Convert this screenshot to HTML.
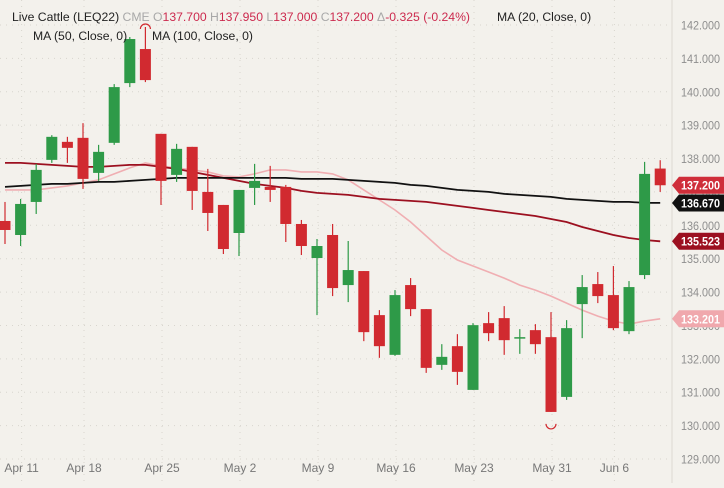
<!DOCTYPE html>
<html><head><meta charset="utf-8"><style>
html,body{margin:0;padding:0;background:#f3f1ec;}
body{width:724px;height:483px;overflow:hidden;font-family:"Liberation Sans",sans-serif;}
svg text{font-family:"Liberation Sans",sans-serif;}
</style></head><body>
<svg id="chart" width="724" height="483" xmlns="http://www.w3.org/2000/svg">
<rect x="0" y="0" width="724" height="483" fill="#f3f1ec"/>
<g id="grid"></g>
<line x1="672" y1="0" x2="672" y2="483" stroke="#dcd9d2" stroke-width="1"/>
<g id="ma"></g>
<g id="candles"></g>
<g id="yaxis"></g>
<g id="xaxis"></g>
<g id="tags"></g>
<g font-size="12.2">
<text x="12" y="21" textLength="458" lengthAdjust="spacingAndGlyphs"><tspan fill="#222">Live Cattle (LEQ22) </tspan><tspan fill="#a8a8a8">CME O</tspan><tspan fill="#cc2a4e">137.700 </tspan><tspan fill="#a8a8a8">H</tspan><tspan fill="#cc2a4e">137.950 </tspan><tspan fill="#a8a8a8">L</tspan><tspan fill="#cc2a4e">137.000 </tspan><tspan fill="#a8a8a8">C</tspan><tspan fill="#cc2a4e">137.200 </tspan><tspan fill="#a8a8a8">Δ</tspan><tspan fill="#cc2a4e">-0.325 (-0.24%)</tspan></text>
<text x="497" y="21" fill="#222">MA (20, Close, 0)</text>
<text x="33" y="40" fill="#222">MA (50, Close, 0)</text>
<text x="152" y="40" fill="#222">MA (100, Close, 0)</text>
</g>
</svg>
<script>
const opens  = [136.13,135.71,136.70,137.96,138.50,138.62,137.57,138.47,140.26,141.28,138.74,137.51,138.35,137.00,136.61,135.77,137.12,137.15,137.15,136.04,135.02,135.71,134.21,134.63,133.31,132.12,134.21,133.49,131.82,132.38,131.07,133.07,133.22,132.62,132.86,132.65,130.86,133.64,134.24,133.91,132.83,134.51,137.70];
const highs  = [136.70,136.79,137.84,138.70,138.65,139.06,138.41,140.23,141.64,141.94,138.74,138.44,138.35,137.69,136.61,137.06,137.84,137.78,137.21,136.16,135.59,136.04,135.53,134.63,133.46,134.06,134.42,133.49,132.44,132.74,133.07,133.40,133.58,132.89,133.04,133.40,133.16,134.51,134.60,134.78,134.33,137.90,137.95];
const lows   = [135.44,135.38,136.34,137.87,137.87,137.09,137.33,138.41,140.14,140.29,136.61,137.30,136.46,135.83,135.14,135.08,136.61,136.70,135.50,135.11,133.31,133.88,133.70,132.53,132.03,132.09,133.28,131.58,131.67,131.22,131.07,132.53,132.12,132.15,132.15,130.41,130.77,132.62,133.67,132.86,132.74,134.39,137.00];
const closes = [135.86,136.64,137.66,138.65,138.32,137.39,138.20,140.14,141.58,140.35,137.33,138.29,137.03,136.37,135.29,137.06,137.33,137.06,136.04,135.38,135.38,134.12,134.66,132.80,132.38,133.91,133.49,131.73,132.06,131.61,133.01,132.77,132.56,132.65,132.44,130.41,132.92,134.15,133.88,132.92,134.15,137.54,137.20];
const ma20  = [137.06,137.06,137.06,137.12,137.18,137.27,137.36,137.54,137.72,137.87,137.78,137.72,137.66,137.60,137.48,137.45,137.54,137.66,137.66,137.60,137.60,137.54,137.36,137.06,136.76,136.46,136.10,135.68,135.26,134.96,134.78,134.60,134.42,134.21,134.06,133.88,133.67,133.46,133.28,133.13,133.04,133.13,133.20];
const ma50  = [137.87,137.87,137.84,137.81,137.78,137.75,137.75,137.78,137.81,137.81,137.75,137.69,137.60,137.51,137.42,137.33,137.24,137.18,137.12,137.03,136.97,136.94,136.91,136.85,136.79,136.76,136.73,136.70,136.64,136.58,136.52,136.46,136.40,136.34,136.28,136.19,136.10,135.95,135.83,135.71,135.62,135.56,135.52];
const ma100 = [137.15,137.18,137.21,137.24,137.24,137.27,137.30,137.30,137.33,137.36,137.39,137.42,137.42,137.42,137.42,137.42,137.42,137.42,137.42,137.39,137.39,137.39,137.36,137.33,137.30,137.27,137.21,137.18,137.12,137.06,137.03,137.00,136.94,136.91,136.88,136.85,136.79,136.76,136.73,136.70,136.70,136.67,136.67];
const priceTicks = [142,141,140,139,138,137,136,135,134,133,132,131,130,129];
const dateLabels = ["Apr 11","Apr 18","Apr 25","May 2","May 9","May 16","May 23","May 31","Jun 6"];
const dateIndex  = [1,5,10,15,20,25,30,35,39];
const lastVals = [137.200,136.670,135.523,133.201];
const lastColors = ["#cf2e3a","#111111","#9c1020","#f0a8ad"];

const NS="http://www.w3.org/2000/svg";
const yOf=p=>25+(142-p)*33.385;
const xOf=i=>5+i*15.6;
function mk(tag,attrs,parent){const e=document.createElementNS(NS,tag);for(const k in attrs)e.setAttribute(k,attrs[k]);parent.appendChild(e);return e;}
const grid=document.getElementById('grid'),ya=document.getElementById('yaxis'),xa=document.getElementById('xaxis');
priceTicks.forEach(p=>{
  const l=mk('line',{x1:0,x2:672,y1:yOf(p),y2:yOf(p),stroke:'#d8d5ce','stroke-dasharray':'1,5'},grid);
  
  
  const t=mk('text',{x:681,y:yOf(p)+4.5,'font-size':'12',fill:'#8e8e8e',textLength:'39',lengthAdjust:'spacingAndGlyphs'},ya);
  t.textContent=p.toFixed(3);
  
  
});
dateLabels.forEach((d,k)=>{
  const x=xOf(dateIndex[k])+1;
  const l=mk('line',{x1:x,x2:x,y1:0,y2:483,stroke:'#d8d5ce','stroke-dasharray':'1,5'},grid);
  
  
  const t=mk('text',{x:x,y:472,'font-size':'12','text-anchor':'middle',fill:'#777'},xa);
  t.textContent=d;
  
  
});
const ma=document.getElementById('ma');
[[ma20,'#f0aeb2',1.6,'ma20-line'],[ma50,'#9c1020',1.8,'ma50-line'],[ma100,'#111',1.8,'ma100-line']].forEach(s=>{
  const d=s[0].map((v,i)=>(i?'L':'M')+xOf(i).toFixed(1)+' '+yOf(v).toFixed(1)).join(' ');
  const p=mk('path',{d:d,fill:'none',stroke:s[1],'stroke-width':s[2]},ma);
  
  
});
const cg=document.getElementById('candles');
opens.forEach((o,i)=>{
  const c=closes[i],up=c>=o,col=up?'#2e9a48':'#d12a30',x=xOf(i);
  const g=mk('g',{},cg);
  
  
  mk('line',{x1:x,x2:x,y1:yOf(highs[i]),y2:yOf(lows[i]),stroke:col,'stroke-width':1.2},g);
  const top=yOf(Math.max(o,c)),h=Math.max(1.5,Math.abs(yOf(o)-yOf(c)));
  mk('rect',{x:x-5.5,y:top,width:11,height:h,fill:col},g);
});
const hi=highs.indexOf(Math.max(...highs)),lo=lows.indexOf(Math.min(...lows));
const hm=mk('path',{d:`M${xOf(hi)-5} ${yOf(highs[hi])+2} A5 5 0 0 1 ${xOf(hi)+5} ${yOf(highs[hi])+2}`,fill:'none',stroke:'#d12a30','stroke-width':1.2},cg);


const lm=mk('path',{d:`M${xOf(lo)-5} ${yOf(lows[lo])+12} A5 5 0 0 0 ${xOf(lo)+5} ${yOf(lows[lo])+12}`,fill:'none',stroke:'#d12a30','stroke-width':1.2},cg);


const tg=document.getElementById('tags');
lastVals.forEach((v,k)=>{
  const y=yOf(v);
  const g=mk('g',{},tg);
  
  
  mk('path',{d:`M672 ${y} L679 ${y-8.5} L724 ${y-8.5} L724 ${y+8.5} L679 ${y+8.5} Z`,fill:lastColors[k]},g);
  const t=mk('text',{x:681,y:y+4.5,'font-size':'12','font-weight':'bold',fill:'#fff',textLength:'39',lengthAdjust:'spacingAndGlyphs'},g);
  t.textContent=v.toFixed(3);
});
</script>
</body></html>
